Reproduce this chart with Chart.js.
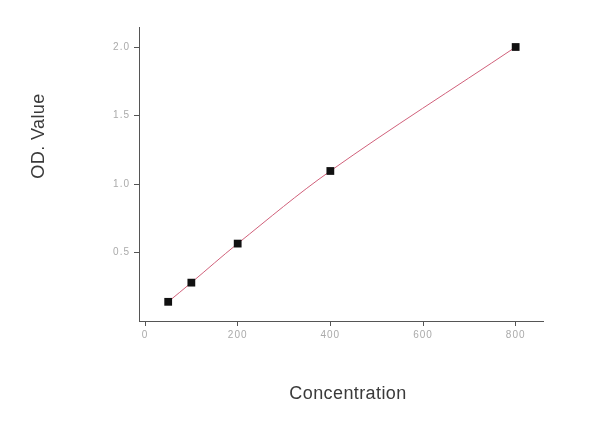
<!DOCTYPE html>
<html>
<head>
<meta charset="utf-8">
<script src="https://cdn.jsdelivr.net/npm/chart.js@4/dist/chart.umd.min.js"></script>
<style>
  html, body { margin: 0; padding: 0; background: #fff; }
  canvas { display: block; }
</style>
</head>
<body>
<canvas id="curve" width="600" height="444"></canvas>
<script>
// данные стандартной кривой
const concentration = [50, 100, 200, 400, 800];
const odValue = [0.14, 0.28, 0.565, 1.095, 2.0];
const xTickValues = [0, 200, 400, 600, 800];
const yTickValues = [0.5, 1.0, 1.5, 2.0];

const xTitle = "Concentration";
const yTitle = "OD. Value";

const canvas = document.getElementById("curve");
const context = canvas.getContext("2d");

// разрядка букв для подписей делений
const spacing = {
    id: "spacing",
    beforeDraw(chart) { chart.ctx.letterSpacing = "1px"; }
};

// подписи осей рисуем сами, чтобы встали на свои места
const axisTitles = {
    id: "axisTitles",
    afterDraw(chart) {
        const ctx = chart.ctx;
        ctx.save();
        ctx.letterSpacing = "0.4px";
        ctx.fillStyle = "#3a3a3a";
        ctx.font = "18px Arial, 'Liberation Sans', sans-serif";
        ctx.textAlign = "center";
        ctx.textBaseline = "middle";
        ctx.fillText(xTitle, 348, 394);
        ctx.translate(39, 136);
        ctx.rotate(-Math.PI / 2);
        ctx.fillText(yTitle, 0, 0);
        ctx.restore();
    }
};

const tickFont = { family: "Arial, 'Liberation Sans', sans-serif", size: 10 };

const configGraphic = {
    type: "line",
    data: {
        datasets: [{
            data: concentration.map((c, i) => ({ x: c, y: odValue[i] })),
            borderColor: "#d0607a",
            borderWidth: 1,
            tension: 0.35,
            pointStyle: "rect",
            pointRadius: 5.5,
            pointBackgroundColor: "#111",
            pointBorderColor: "#111",
            pointBorderWidth: 0,
        }],
    },
    options: {
        responsive: false,
        animation: false,
        layout: { padding: { top: 27, right: 57, left: 0, bottom: 0 } },
        plugins: { legend: { display: false }, tooltip: { enabled: false } },
        scales: {
            x: {
                type: "linear",
                min: -13,
                max: 859,
                afterFit(scale) { scale.height = 123; },
                afterBuildTicks(scale) { scale.ticks = xTickValues.map(v => ({ value: v })); },
                grid: { drawOnChartArea: false, tickLength: 5, color: "#555" },
                border: { color: "#555", width: 1 },
                ticks: { color: "#aaa", font: tickFont, padding: 3, maxRotation: 0 },
            },
            y: {
                type: "linear",
                min: 0,
                max: 2.146,
                afterFit(scale) { scale.width = 139; },
                afterBuildTicks(scale) { scale.ticks = yTickValues.map(v => ({ value: v })); },
                grid: { drawOnChartArea: false, tickLength: 5, color: "#555" },
                border: { color: "#555", width: 1 },
                ticks: { color: "#aaa", font: tickFont, padding: 4, callback: v => v.toFixed(1) },
            },
        },
    },
    plugins: [spacing, axisTitles],
};

let chart = new Chart(context, configGraphic);
</script>
</body>
</html>
